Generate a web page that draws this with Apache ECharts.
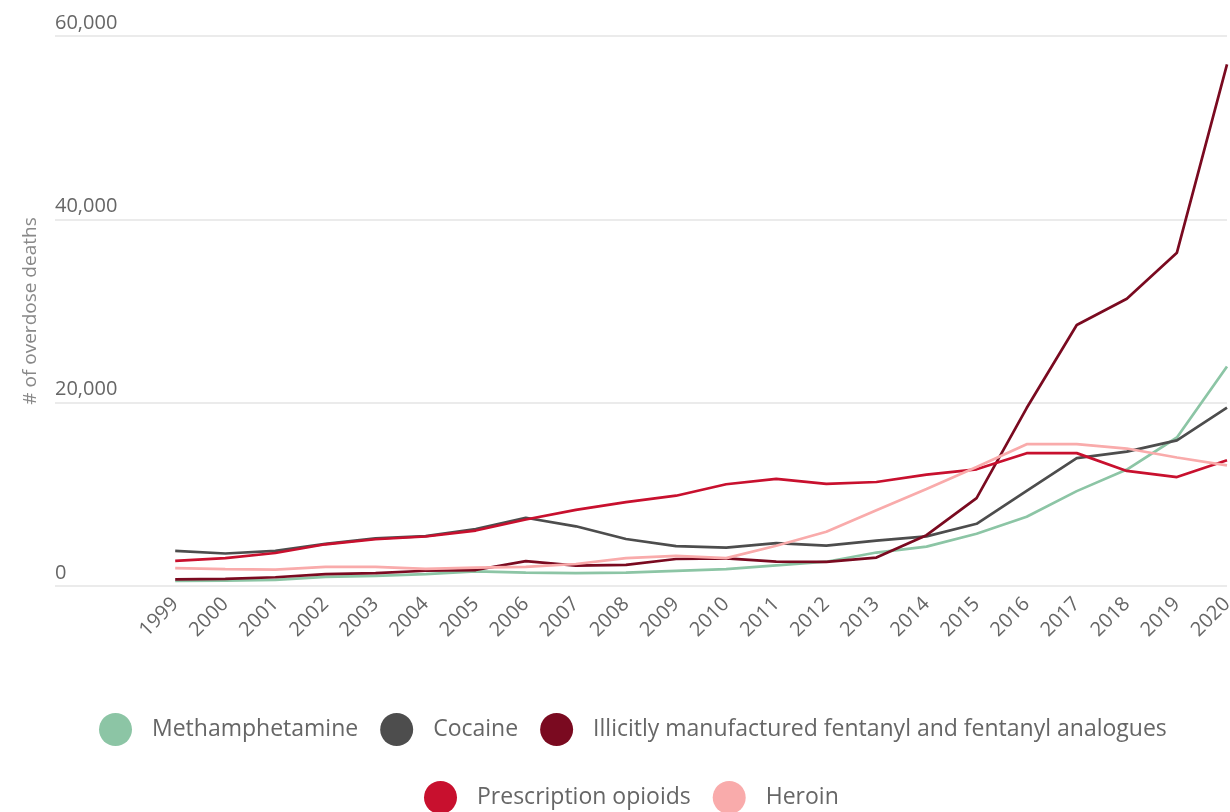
<!DOCTYPE html>
<html>
<head>
<meta charset="utf-8">
<script src="https://cdn.jsdelivr.net/npm/echarts@6/dist/echarts.min.js"></script>
<style>
html,body{margin:0;padding:0;background:#fff;overflow:hidden;}
#chart{width:1230px;height:812px;}
</style>
</head>
<body>
<div id="chart"></div>
<script>
const years = [1999,2000,2001,2002,2003,2004,2005,2006,2007,2008,2009,2010,2011,2012,2013,2014,2015,2016,2017,2018,2019,2020];
const methamphetamine = [547,578,660,1000,1100,1300,1600,1450,1400,1450,1650,1850,2250,2650,3650,4300,5700,7550,10350,12700,16200,23950];
const cocaine = [3822,3544,3833,4599,5199,5443,6208,7448,6512,5129,4350,4183,4681,4404,4944,5415,6784,10375,13942,14666,15883,19447];
const fentanyl = [730,782,957,1295,1400,1664,1742,2707,2213,2306,2946,3007,2666,2628,3105,5544,9580,19413,28466,31335,36359,56900];
const prescription = [2749,3050,3600,4550,5100,5400,6050,7250,8300,9150,9850,11100,11693,11140,11346,12159,12727,14487,14495,12552,11886,13722];
const heroin = [1960,1842,1779,2089,2080,1878,2009,2088,2399,3041,3278,3036,4397,5925,8257,10574,12989,15469,15482,14996,14019,13165];
const yTicks = [0,20000,40000,60000];

const names = ['Methamphetamine','Cocaine','Illicitly manufactured fentanyl and fentanyl analogues','Prescription opioids','Heroin'];
const colors = ['#8cc5a5','#4d4d4d','#7a0a20','#c8102e','#f9abab'];
const values = [methamphetamine, cocaine, fentanyl, prescription, heroin];

const FONT = '"Open Sans", Lato, sans-serif';
const chart = echarts.init(document.getElementById('chart'));

const series = names.map((n,i)=>({
  name:n, type:'line', showSymbol:false, symbol:'circle',
  data: years.map((y,j)=>[y, values[i][j]]),
  lineStyle:{width:2.7,color:colors[i]},
  itemStyle:{color:colors[i]},
  emphasis:{disabled:true},
  animation:false
}));

const legendCommon = {
  icon:'circle', itemWidth:33, itemHeight:33, itemGap:22,
  textStyle:{fontFamily:FONT,fontSize:23,color:'#666',padding:[0,0,0,15]},
  selectedMode:false
};

chart.setOption({
  backgroundColor:'#fff',
  animation:false,
  grid:{left:55,right:3,top:36,bottom:226,containLabel:false,outerBoundsMode:'none'},
  legend:[
    Object.assign({left:94,top:708,data:names.slice(0,3)},legendCommon),
    Object.assign({left:419,top:776,data:names.slice(3)},legendCommon)
  ],
  xAxis:{
    type:'value', min:1996.6, max:2020,
    axisLine:{show:false}, axisTick:{show:false}, splitLine:{show:false},
    axisLabel:{
      customValues:years, rotate:45, margin:15,
      fontFamily:FONT, fontSize:20, color:'#666',
      formatter:v=>String(Math.round(v))
    }
  },
  yAxis:{
    type:'value', min:0, max:60000, interval:20000,
    name:'# of overdose deaths', nameLocation:'middle', nameGap:15, nameRotate:90,
    nameTextStyle:{fontFamily:FONT,fontSize:19,color:'#888'},
    axisLine:{show:false}, axisTick:{show:false},
    splitLine:{lineStyle:{color:'#ebebeb',width:2}},
    axisLabel:{
      inside:true, margin:0, verticalAlign:'bottom', padding:[0,0,3,0],
      fontFamily:FONT, fontSize:20, color:'#666',
      customValues:yTicks,
      formatter:v=>v.toLocaleString('en-US')
    }
  },
  series:series
});
</script>
</body>
</html>
